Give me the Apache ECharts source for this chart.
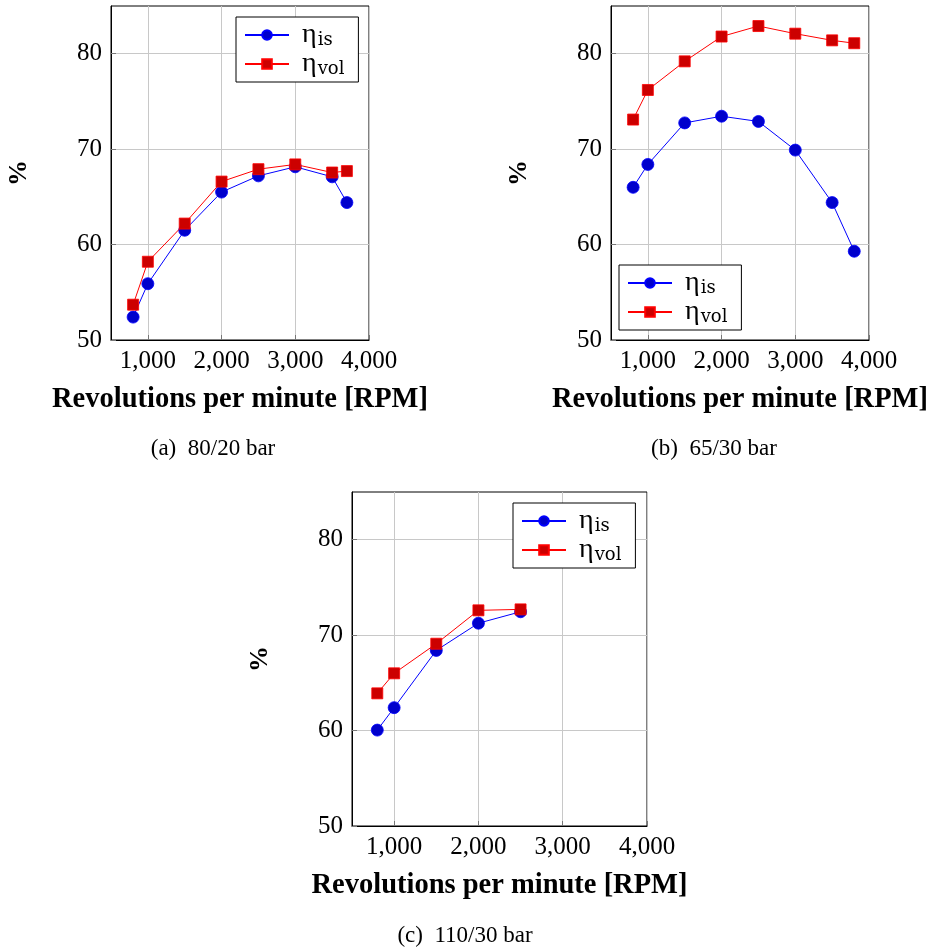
<!DOCTYPE html>
<html>
<head>
<meta charset="utf-8">
<script src="https://cdn.jsdelivr.net/npm/echarts@6/dist/echarts.min.js"></script>
<style>html,body{margin:0;padding:0;background:#fff;}#c{width:935px;height:951px;}</style>
</head>
<body>
<div id="c"></div>
<script>
// ---- data ----
const rpmA = [800, 1000, 1500, 2000, 2500, 3000, 3500, 3700];
const isA  = [52.4, 55.9, 61.5, 65.5, 67.2, 68.15, 67.1, 64.4];
const volA = [53.7, 58.2, 62.2, 66.6, 67.9, 68.4, 67.55, 67.7];

const rpmB = [800, 1000, 1500, 2000, 2500, 3000, 3500, 3800];
const isB  = [66.0, 68.4, 72.75, 73.45, 72.9, 69.9, 64.4, 59.3];
const volB = [73.1, 76.2, 79.2, 81.8, 82.9, 82.1, 81.4, 81.1];

const rpmC = [800, 1000, 1500, 2000, 2500];
const isC  = [60.05, 62.4, 68.4, 71.25, 72.45];
const volC = [63.9, 66.0, 69.1, 72.6, 72.7];

const xTicks = [1000, 2000, 3000, 4000];
const yTicks = [50, 60, 70, 80];
const captions = ['(a)  80/20 bar', '(b)  65/30 bar', '(c)  110/30 bar'];
const xTitle = 'Revolutions per minute [RPM]';
const yTitle = '%';

// ---- layout ----
const SERIF = 'Liberation Serif';
const grids = [
  {left: 111, top: 6, width: 258, height: 334},
  {left: 611, top: 6, width: 258, height: 334},
  {left: 352, top: 492, width: 295, height: 334}
];
const legendPos = [
  {left: 236, top: 17},
  {left: 619, top: 265},
  {left: 513, top: 503}
];

function fmtNum(v) { return v.toLocaleString('en-US'); }

const xAxes = grids.map((g, i) => ({
  type: 'value', gridIndex: i, min: 500, max: 4000,
  axisLine: {show: true, lineStyle: {color: '#000', width: 1}},
  axisTick: {show: true, inside: true, length: 5, customValues: xTicks, lineStyle: {color: '#777'}},
  axisLabel: {customValues: xTicks, formatter: fmtNum, color: '#000', fontFamily: SERIF, fontSize: 25, margin: 9},
  splitLine: {show: true, lineStyle: {color: '#c8c8c8', width: 1}},
  name: xTitle, nameLocation: 'middle', nameGap: 45,
  nameTextStyle: {color: '#000', fontFamily: SERIF, fontWeight: 'bold', fontSize: 28.5}
}));
const yAxes = grids.map((g, i) => ({
  type: 'value', gridIndex: i, min: 50, max: 85,
  axisLine: {show: true, lineStyle: {color: '#000', width: 1}},
  axisTick: {show: true, inside: true, length: 5, customValues: yTicks, lineStyle: {color: '#777'}},
  axisLabel: {customValues: yTicks, color: '#000', fontFamily: SERIF, fontSize: 25, margin: 9},
  splitLine: {show: true, lineStyle: {color: '#c8c8c8', width: 1}},
  name: yTitle, nameLocation: 'middle', nameGap: 79, nameRotate: 90,
  nameTextStyle: {color: '#000', fontFamily: SERIF, fontWeight: 'bold', fontSize: 26}
}));

function mkSeries(name, xs, ys, idx, kind) {
  const blue = kind === 'is';
  return {
    name: name, type: 'line', xAxisIndex: idx, yAxisIndex: idx,
    data: xs.map((x, k) => [x, ys[k]]),
    symbol: blue ? 'circle' : 'rect',
    symbolSize: blue ? 12 : 11,
    showAllSymbol: true,
    lineStyle: {color: blue ? '#0000ff' : '#ff0000', width: 1},
    itemStyle: {color: blue ? '#0000cc' : '#cc0000', borderColor: blue ? '#0000ff' : '#ff0000', borderWidth: 0.8},
    emphasis: {disabled: true},
    animation: false, z: blue ? 3 : 4
  };
}

const series = [
  mkSeries('is', rpmA, isA, 0, 'is'), mkSeries('vol', rpmA, volA, 0, 'vol'),
  mkSeries('is', rpmB, isB, 1, 'is'), mkSeries('vol', rpmB, volB, 1, 'vol'),
  mkSeries('is', rpmC, isC, 2, 'is'), mkSeries('vol', rpmC, volC, 2, 'vol')
];

const legends = legendPos.map(p => ({
  left: p.left, top: p.top, orient: 'vertical',
  data: ['is', 'vol'],
  itemWidth: 44, itemHeight: 12, itemGap: 1,
  padding: [4, 14, 4, 8],
  borderColor: '#000', borderWidth: 1, backgroundColor: '#fff',
  selectedMode: false,
  formatter: n => '{e|η}{s|' + n + '}',
  textStyle: {
    color: '#000',
    rich: {
      e: {fontFamily: SERIF, fontSize: 28, lineHeight: 24, padding: [0, 0, 0, 8]},
      s: {fontFamily: 'DejaVu Serif', fontSize: 18, lineHeight: 14, padding: [10, 0, 0, 1]}
    }
  }
}));

const capPos = [[213, 449], [714, 449], [465, 936]];
const graphic = captions.map((t, i) => ({
  type: 'text', x: capPos[i][0], y: capPos[i][1],
  style: {text: t, fill: '#000', font: '23px "Liberation Serif"', textAlign: 'center', textVerticalAlign: 'middle'}
}));

const chart = echarts.init(document.getElementById('c'), null, {renderer: 'canvas'});
chart.setOption({
  animation: false,
  grid: grids.map(g => Object.assign({show: true, borderColor: '#000', borderWidth: 1, backgroundColor: 'transparent'}, g)),
  xAxis: xAxes, yAxis: yAxes, series: series, legend: legends, graphic: graphic
});
</script>
</body>
</html>
